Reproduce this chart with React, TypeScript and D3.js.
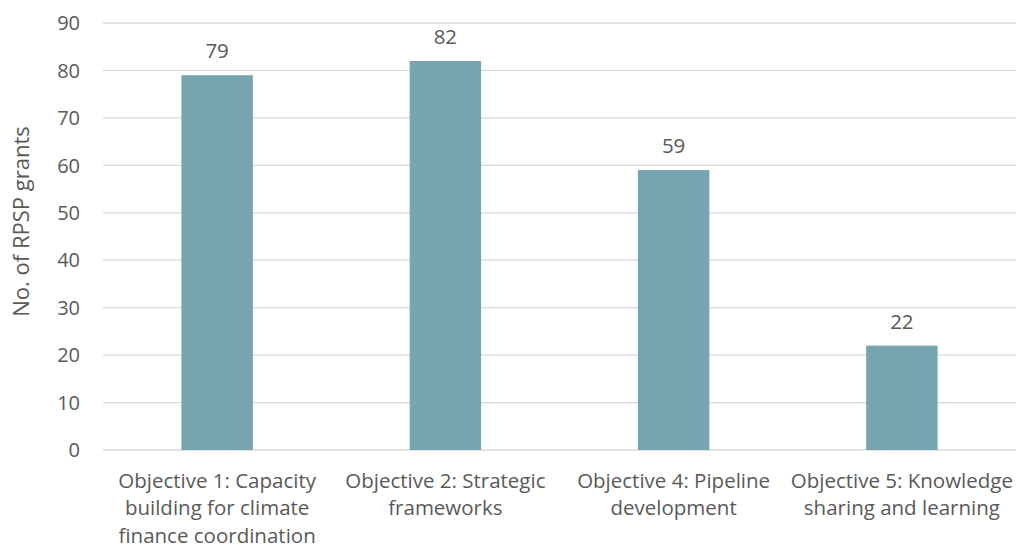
import React from "react";
import * as d3 from "d3";

const categories: string[][] = [
  ["Objective 1: Capacity", "building for climate", "finance coordination"],
  ["Objective 2: Strategic", "frameworks"],
  ["Objective 4: Pipeline", "development"],
  ["Objective 5: Knowledge", "sharing and learning"],
];
const grants: number[] = [79, 82, 59, 22];
const yTicks: number[] = [0, 10, 20, 30, 40, 50, 60, 70, 80, 90];

const W = 1016;
const H = 547;
const margin = { top: 23, right: 0, bottom: 97, left: 103 };
const FONT = "'Open Sans', 'Noto Sans', sans-serif";
const TEXT = "#595959";

export default function App() {
  const x = d3
    .scaleBand<number>()
    .domain(d3.range(categories.length))
    .range([margin.left, W - margin.right])
    .paddingInner(0.687)
    .paddingOuter(0.3435);
  const y = d3.scaleLinear().domain([0, 90]).range([H - margin.bottom, margin.top]);

  return (
    <svg
      width={W}
      height={H}
      style={{ position: "absolute", left: 0, top: 0, background: "#fff" }}
      fontFamily={FONT}
    >
      {yTicks.map((t) => (
        <g key={t}>
          <line x1={margin.left} x2={W - margin.right} y1={y(t)} y2={y(t)} stroke="#d9d9d9" strokeWidth={1.3} />
          <text x={80} y={y(t)} dy="0.36em" textAnchor="end" fontSize={20} fill={TEXT}>
            {t}
          </text>
        </g>
      ))}
      {grants.map((v, i) => (
        <g key={i}>
          <rect x={x(i)} y={y(v)} width={x.bandwidth()} height={y(0) - y(v)} fill="#76a5b0" />
          <text x={x(i)! + x.bandwidth() / 2} y={y(v) - 17} textAnchor="middle" fontSize={20.5} fill={TEXT}>
            {v}
          </text>
        </g>
      ))}
      {categories.map((lines, i) => (
        <text key={i} textAnchor="middle" fontSize={20.5} fill={TEXT}>
          {lines.map((l, j) => (
            <tspan key={j} x={x(i)! + x.bandwidth() / 2} y={y(0) + 37.5 + j * 27.5}>
              {l}
            </tspan>
          ))}
        </text>
      ))}
      <text
        transform={`translate(29, ${(margin.top + H - margin.bottom) / 2 - 15}) rotate(-90)`}
        textAnchor="middle"
        fontSize={22}
        fill={TEXT}
      >
        No. of RPSP grants
      </text>
    </svg>
  );
}
